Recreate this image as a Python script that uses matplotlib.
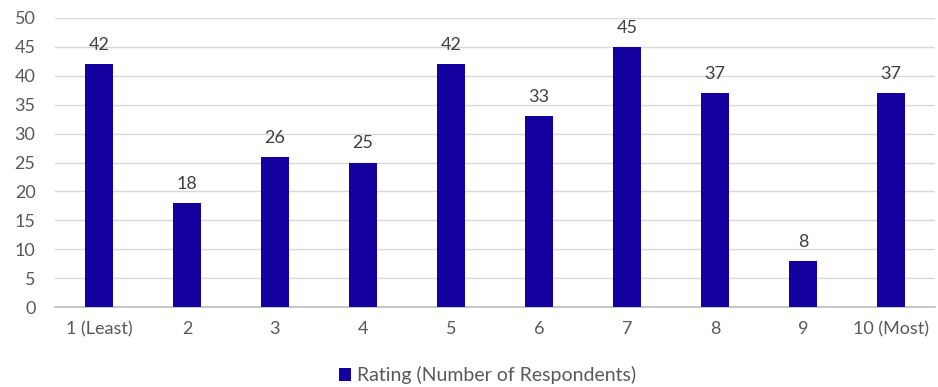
import matplotlib.pyplot as plt
from matplotlib.patches import Patch

# data
categories = ['1 (Least)', '2', '3', '4', '5', '6', '7', '8', '9', '10 (Most)']
respondents = [42, 18, 26, 25, 42, 33, 45, 37, 8, 37]
series_name = 'Rating (Number of Respondents)'

bar_color = '#13009e'
text_color = '#595959'

plt.rcParams['font.family'] = ['Lato', 'DejaVu Sans']

fig = plt.figure(figsize=(9.38, 3.87), dpi=100)
ax = fig.add_axes([0.0586, 0.2067, 0.938, 0.7468])

x = range(len(categories))
bars = ax.bar(x, respondents, width=0.32, color=bar_color, zorder=3)

# value labels above each bar
for rect, val in zip(bars, respondents):
    ax.annotate(str(val), (rect.get_x() + rect.get_width() / 2, val),
                xytext=(0, 8), textcoords='offset points',
                ha='center', va='bottom', fontsize=13, color='#404040')

ax.set_xlim(-0.5, len(categories) - 0.5)
ax.set_ylim(0, 50)
ax.set_yticks(range(0, 51, 5))
ax.set_xticks(list(x))
ax.set_xticklabels(categories)
ax.tick_params(axis='both', length=0, labelsize=13, colors=text_color)
ax.tick_params(axis='x', pad=10)
ax.tick_params(axis='y', pad=14)

ax.grid(axis='y', color='#d9d9d9', linewidth=1, zorder=0)
for side in ['top', 'right', 'left']:
    ax.spines[side].set_visible(False)
ax.spines['bottom'].set_color('#bfbfbf')
ax.spines['bottom'].set_linewidth(1.2)

handle = Patch(facecolor=bar_color, label=series_name)
fig.legend(handles=[handle], loc='center', bbox_to_anchor=(0.52, 0.03),
           frameon=False, fontsize=14, labelcolor=text_color,
           handlelength=0.6, handleheight=0.6, handletextpad=0.3)

fig.savefig('out.png', dpi=100)
